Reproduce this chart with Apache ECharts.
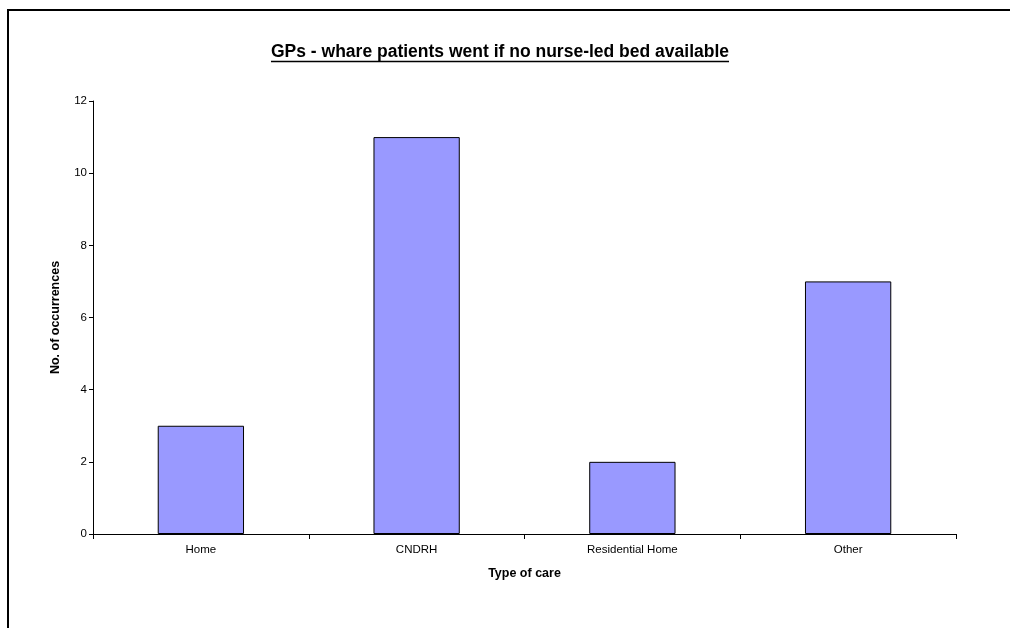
<!DOCTYPE html>
<html>
<head>
<meta charset="utf-8">
<script src="https://cdn.jsdelivr.net/npm/echarts@6/dist/echarts.min.js"></script>
<style>
  html, body { margin: 0; padding: 0; background: #fff; }
  #chart { width: 1010px; height: 628px; }
</style>
</head>
<body>
<div id="chart"></div>
<script>
// Where GP patients went when no nurse-led bed was free
const chartTitle = 'GPs - whare patients went if no nurse-led bed available';
const categories = ['Home', 'CNDRH', 'Residential Home', 'Other'];
const occurrences = [3, 11, 2, 7];
const xAxisName = 'Type of care';
const yAxisName = 'No. of occurrences';

const FONT = '"Liberation Sans", Arial, sans-serif';
const titleFontSize = 17.5;
const titleCenterX = 500;
const titleMidY = 52.5;

// measure the title so its underline spans the text exactly
const ctx = document.createElement('canvas').getContext('2d');
ctx.font = 'bold ' + titleFontSize + 'px ' + FONT;
const titleWidth = ctx.measureText(chartTitle).width;

const chart = echarts.init(document.getElementById('chart'), null, { renderer: 'canvas' });

chart.setOption({
  backgroundColor: '#ffffff',
  animation: false,
  textStyle: { fontFamily: FONT },
  graphic: [
    {
      type: 'rect',
      shape: { x: 8, y: 10, width: 1200, height: 800 },
      style: { fill: null, stroke: '#000', lineWidth: 2 },
      silent: true
    },
    {
      type: 'text',
      x: titleCenterX,
      y: titleMidY,
      style: {
        text: chartTitle,
        font: 'bold ' + titleFontSize + 'px ' + FONT,
        fill: '#000',
        align: 'center',
        verticalAlign: 'middle'
      }
    },
    {
      type: 'line',
      shape: {
        x1: titleCenterX - titleWidth / 2, y1: 61.5,
        x2: titleCenterX + titleWidth / 2, y2: 61.5
      },
      style: { stroke: '#000', lineWidth: 1.5 }
    }
  ],
  grid: { left: 93, right: 54, top: 101, bottom: 94, containLabel: false },
  xAxis: {
    type: 'category',
    data: categories,
    boundaryGap: true,
    name: xAxisName,
    nameLocation: 'middle',
    nameGap: 33,
    nameTextStyle: { fontSize: 12.5, fontWeight: 'bold', color: '#000' },
    axisLine: { lineStyle: { color: '#000', width: 1 } },
    axisTick: { show: true, length: 5, lineStyle: { color: '#000' } },
    axisLabel: { fontSize: 11.5, color: '#000', margin: 10 },
    splitLine: { show: false }
  },
  yAxis: {
    type: 'value',
    min: 0,
    max: 12,
    interval: 2,
    name: yAxisName,
    nameLocation: 'middle',
    nameGap: 31,
    nameRotate: 90,
    nameTextStyle: { fontSize: 12.5, fontWeight: 'bold', color: '#000' },
    axisLine: { show: true, lineStyle: { color: '#000', width: 1 } },
    axisTick: { show: true, length: 4, lineStyle: { color: '#000' } },
    axisLabel: { fontSize: 11.5, color: '#000', margin: 6 },
    splitLine: { show: false }
  },
  series: [{
    type: 'bar',
    data: occurrences,
    barWidth: '40%',
    itemStyle: { color: '#9999ff', borderColor: '#000', borderWidth: 1 }
  }]
});
</script>
</body>
</html>
